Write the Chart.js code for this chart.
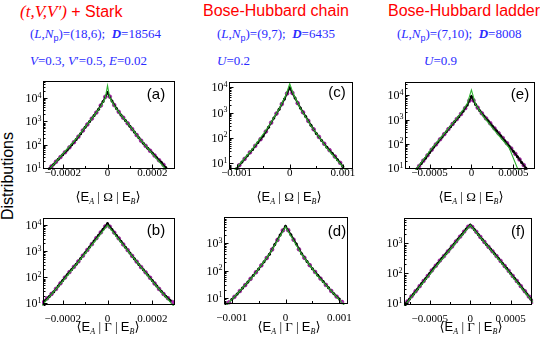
<!DOCTYPE html>
<html><head><meta charset="utf-8">
<script src="https://cdn.jsdelivr.net/npm/chart.js@4.4.0/dist/chart.umd.min.js"></script>
<style>
html,body{margin:0;padding:0;background:#fff;}
#wrap{position:relative;width:540px;height:340px;overflow:hidden;background:#fff;}
canvas{position:absolute;}
.t{position:absolute;white-space:nowrap;line-height:1;}
.title{font-family:"Liberation Sans",Arial,sans-serif;font-size:16px;color:#ff0000;}
.title .it{font-family:"Liberation Serif",serif;font-style:italic;font-size:17px;}
.blue{font-family:"Liberation Serif",serif;font-size:13px;color:#2b2bff;}
.blue .ps{font-family:"Liberation Sans",Arial,sans-serif;font-size:9px;vertical-align:-3px;}
.lab{font-family:"Liberation Sans",Arial,sans-serif;font-size:15px;color:#000;transform:translate(-50%,-50%);}
.xt{font-family:"Liberation Serif","DejaVu Serif",serif;font-size:13px;color:#000;transform:translateX(-50%);}
.xt .e{font-family:"Liberation Sans",Arial,sans-serif;}
.xt .s{font-style:italic;font-size:8px;vertical-align:-3px;}
.ylab{font-family:"Liberation Sans",Arial,sans-serif;font-size:16px;color:#000;transform:translate(-50%,-50%) rotate(-90deg);}
</style></head>
<body><div id="wrap">
<div class="t title" style="left:20px;top:3px;"><span class="it">(t,V,V′)</span> + Stark</div>
<div class="t title" style="left:203px;top:3px;">Bose-Hubbard chain</div>
<div class="t title" style="left:388px;top:3px;">Bose-Hubbard ladder</div>
<div class="t blue" style="left:30px;top:27px;">(<i>L</i>,<i>N</i><span class="ps">p</span>)=(18,6);&nbsp; <b><i>D</i></b>=18564</div>
<div class="t blue" style="left:30px;top:54px;"><i>V</i>=0.3, <i>V</i>′=0.5, <i>E</i>=0.02</div>
<div class="t blue" style="left:217px;top:27px;">(<i>L</i>,<i>N</i><span class="ps">p</span>)=(9,7);&nbsp; <b><i>D</i></b>=6435</div>
<div class="t blue" style="left:217px;top:54px;"><i>U</i>=0.2</div>
<div class="t blue" style="left:397px;top:27px;">(<i>L</i>,<i>N</i><span class="ps">p</span>)=(7,10);&nbsp; <b><i>D</i></b>=8008</div>
<div class="t blue" style="left:424px;top:54px;"><i>U</i>=0.9</div>
<div class="t ylab" style="left:8px;top:176px;">Distributions</div>
</div>
<script>
// ---------- data ----------
// Panel (a)
const xA_black = [-0.00026,-0.00024,-0.00022,-0.0002,-0.00018,-0.00016,-0.00014,-0.00012,-0.0001,-0.00008,-0.00006,-0.00004,-0.00002,0,0.00002,0.00004,0.00006,0.00008,0.0001,0.00012,0.00014,0.00016,0.00018,0.0002,0.00022,0.00024,0.00026];
const yA_black = [9.5,15,24,38,60,100,170,300,560,1000,1780,3310,7080,17000,7400,3550,1900,1100,630,355,200,117,71,45,28,18,10.7];
const xA_mag = [-0.00025,-0.00023,-0.00021,-0.00019,-0.00017,-0.00015,-0.00013,-0.00011,-0.00009,-0.00007,-0.00005,-0.00003,-0.00001,0.00001,0.00003,0.00005,0.00007,0.00009,0.00011,0.00013,0.00015,0.00017,0.00019,0.00021,0.00023,0.00025];
const yA_mag = [12,19,30,48,78,129,224,410,740,1320,2400,4790,11200,11500,5000,2570,1450,830,470,263,151,91,56,35,22,14];
const xA_fit = [-0.00026,-0.0002,-0.00014,-0.0001,-0.00006,-0.00003,-0.00001,0,0.00001,0.00003,0.00006,0.0001,0.00014,0.0002,0.00026];
const yA_fit = [8.9,40,178,575,1780,4470,10000,33900,10500,4680,1900,630,200,42,8.9];

// Panel (b)
const xB_black = [-0.00028,-0.00026,-0.00024,-0.00022,-0.0002,-0.00018,-0.00016,-0.00014,-0.00012,-0.0001,-0.00008,-0.00006,-0.00004,-0.00002,0,0.00002,0.00004,0.00006,0.00008,0.0001,0.00012,0.00014,0.00016,0.00018,0.0002,0.00022,0.00024,0.00026,0.00028];
const yB_black = [12.6,18.6,28,46,76,126,200,316,525,870,1450,2450,4070,6900,11500,6800,4000,2400,1420,850,510,310,195,123,75,46,29,19,13];
const xB_mag = [-0.00029,-0.00027,-0.00025,-0.00023,-0.00021,-0.00019,-0.00017,-0.00015,-0.00013,-0.00011,-0.00009,-0.00007,-0.00005,-0.00003,-0.00001,0.00001,0.00003,0.00005,0.00007,0.00009,0.00011,0.00013,0.00015,0.00017,0.00019,0.00021,0.00023,0.00025,0.00027,0.00029];
const yB_mag = [10.7,15.5,23,36,59,98,158,251,407,676,1120,1860,3160,5250,8900,8700,5150,3100,1820,1100,660,400,245,155,96,58,36,23,15.8,11.2];
const xB_fit = [-0.0003,-0.0002,-0.0001,0,0.0001,0.0002,0.0003];
const yB_fit = [7.1,71,830,10000,830,71,7.1];

// Panel (c)
const xC_black = [-0.001,-0.0009,-0.0008,-0.0007,-0.0006,-0.0005,-0.0004,-0.0003,-0.0002,-0.0001,0,0.0001,0.0002,0.0003,0.0004,0.0005,0.0006,0.0007,0.0008,0.0009,0.001];
const yC_black = [6.3,11.2,20,35,66,120,263,603,1350,3390,9330,3720,1510,692,316,151,79,43,25,14,7.6];
const xC_mag = [-0.00095,-0.00085,-0.00075,-0.00065,-0.00055,-0.00045,-0.00035,-0.00025,-0.00015,-0.00005,0.00005,0.00015,0.00025,0.00035,0.00045,0.00055,0.00065,0.00075,0.00085,0.00095];
const yC_mag = [8.5,15,27,49,89,178,398,912,2140,5620,5890,2340,1020,468,219,110,59,33,18.6,10.5];
const xC_fit = [-0.00105,-0.0007,-0.0004,-0.0002,-0.00007,0,0.00007,0.0002,0.0004,0.0007,0.00105];
const yC_fit = [5,37,275,1380,5010,13500,5250,1450,302,40,5.6];

// Panel (d)
const xD_black = [-0.001,-0.0009,-0.0008,-0.0007,-0.0006,-0.0005,-0.0004,-0.0003,-0.0002,-0.0001,0,0.0001,0.0002,0.0003,0.0004,0.0005,0.0006,0.0007,0.0008,0.0009,0.001];
const yD_black = [8.7,13.8,23,38,66,115,209,398,890,2000,4170,2040,933,417,214,117,68,40,23.4,14.1,9.1];
const xD_mag = [-0.00105,-0.00095,-0.00085,-0.00075,-0.00065,-0.00055,-0.00045,-0.00035,-0.00025,-0.00015,-0.00005,0.00005,0.00015,0.00025,0.00035,0.00045,0.00055,0.00065,0.00075,0.00085,0.00095,0.00105];
const yD_mag = [6.9,11,17.8,29.5,50,87,155,288,589,1320,2950,3000,1350,600,295,158,89,51,30,18,11.2,7.1];
const xD_fit = [-0.0011,-0.0006,-0.0003,0,0.0003,0.0006,0.0011];
const yD_fit = [5.2,63,398,3980,398,63,5.2];

// Panel (e)
const xE_black = [-0.00065,-0.0006,-0.00055,-0.0005,-0.00045,-0.0004,-0.00035,-0.0003,-0.00025,-0.0002,-0.00015,-0.0001,-0.00005,0,0.00005,0.0001,0.00015,0.0002,0.00025,0.0003,0.00035,0.0004,0.00045,0.0005,0.00055,0.0006,0.00065];
const yE_black = [9.5,15.8,26,44,74,120,195,316,513,832,1320,2190,3980,8910,4170,2340,1410,891,550,347,219,135,83,50,30,17.4,10.2];
const xE_mag = [-0.000625,-0.000575,-0.000525,-0.000475,-0.000425,-0.000375,-0.000325,-0.000275,-0.000225,-0.000175,-0.000125,-0.000075,-0.000025,0.000025,0.000075,0.000125,0.000175,0.000225,0.000275,0.000325,0.000375,0.000425,0.000475,0.000525,0.000575,0.000625];
const yE_mag = [12.3,20.4,34,58,95,155,251,407,661,1050,1700,2950,6030,6170,3090,1820,1120,708,437,275,174,107,65,39,23,13.5];
const xE_fit = [-0.00067,-0.0005,-0.0003,-0.00015,-0.00005,0,0.00005,0.00015,0.0003,0.00045,0.00055,0.0006];
const yE_fit = [7.9,50,339,1410,4470,16600,4170,1260,282,71,10,5.6];

// Panel (f)
const xF_black = [-0.0008,-0.00075,-0.0007,-0.00065,-0.0006,-0.00055,-0.0005,-0.00045,-0.0004,-0.00035,-0.0003,-0.00025,-0.0002,-0.00015,-0.0001,-0.00005,0,0.00005,0.0001,0.00015,0.0002,0.00025,0.0003,0.00035,0.0004,0.00045,0.0005,0.00055,0.0006,0.00065,0.0007,0.00075];
const yF_black = [9.5,13.8,20.4,30,45,66,100,148,214,316,447,646,933,1380,2000,2950,4070,2880,1950,1320,912,646,447,309,209,145,98,66,45,30,20.4,13.5];
const xF_mag = [-0.000775,-0.000725,-0.000675,-0.000625,-0.000575,-0.000525,-0.000475,-0.000425,-0.000375,-0.000325,-0.000275,-0.000225,-0.000175,-0.000125,-0.000075,-0.000025,0.000025,0.000075,0.000125,0.000175,0.000225,0.000275,0.000325,0.000375,0.000425,0.000475,0.000525,0.000575,0.000625,0.000675,0.000725,0.000775];
const yF_mag = [11.5,17,25,37,55,81,123,178,263,372,537,776,1150,1660,2450,3550,3470,2400,1620,1100,759,537,372,257,174,120,81,55,37,25,16.6,11.2];
const xF_fit = [-0.00083,-0.0004,0,0.0004,0.00083];
const yF_fit = [7.1,200,3980,200,7.1];

// axis ranges and tick settings
const xRanges = {a:[-0.000288,0.000299], b:[-0.000288,0.000299], c:[-0.001144,0.001182], d:[-0.001144,0.00116], e:[-0.000794,0.000754], f:[-0.000818,0.000764]};
const yRanges = {a:[9.3,56000], b:[8.7,19500], c:[6.0,16600], d:[6.0,9500], e:[9.3,37000], f:[8.7,7200]};
const xTickStep = {a:0.0001, b:0.0001, c:0.0005, d:0.0005, e:0.00025, f:0.00025};
const xLabelStep = {a:0.0002, b:0.0002, c:0.001, d:0.001, e:0.0005, f:0.0005};
const panelLetters = ['(a)','(b)','(c)','(d)','(e)','(f)'];

// ---------- layout (box positions in the page) ----------
const boxes = {
  a:{L:43,T:80,R:175,B:169}, b:{L:43,T:217,R:175,B:305},
  c:{L:229,T:81,R:353,B:169}, d:{L:224,T:216,R:356,B:304},
  e:{L:405,T:81,R:535,B:169}, f:{L:404,T:217,R:535,B:305}
};
const labelPos = {a:[156,93], b:[156,229], c:[337,91], d:[337,230], e:[520,93], f:[518,230]};
const xTitleCenter = {a:108, b:108, c:289, d:289, e:471, f:471};

const series = {
  a:[xA_black,yA_black,xA_mag,yA_mag,xA_fit,yA_fit],
  b:[xB_black,yB_black,xB_mag,yB_mag,xB_fit,yB_fit],
  c:[xC_black,yC_black,xC_mag,yC_mag,xC_fit,yC_fit],
  d:[xD_black,yD_black,xD_mag,yD_mag,xD_fit,yD_fit],
  e:[xE_black,yE_black,xE_mag,yE_mag,xE_fit,yE_fit],
  f:[xF_black,yF_black,xF_mag,yF_mag,xF_fit,yF_fit]
};

function pts(xs, ys){ return xs.map((x,i)=>({x:x, y:ys[i]})); }
function isMult(v, step){ const r=v/step; return Math.abs(r-Math.round(r))<1e-6; }
function fmt(v, step){
  if(!isMult(v,step)) return '';
  const k=Math.round(v/step); if(k===0) return '0';
  const val=k*step; const s=parseFloat(Math.abs(val).toPrecision(6)).toString();
  return (val<0?'\u2212':'')+s;
}

const decoPlugin = {
  id:'deco',
  afterDraw(chart){
    const o = chart.options.plugins.deco;
    const ctx=chart.ctx, a=chart.chartArea, xs=chart.scales.x, ys=chart.scales.y;
    ctx.save();
    ctx.strokeStyle='#000'; ctx.lineWidth=1;
    const L=Math.round(a.left)+0.5, R=Math.round(a.right)-0.5, T=Math.round(a.top)+0.5, B=Math.round(a.bottom)-0.5;
    ctx.strokeRect(L,T,R-L,B-T);
    ctx.beginPath();
    xs.ticks.forEach(t=>{
      const px=Math.round(xs.getPixelForValue(t.value))+0.5;
      if(px<L||px>R) return;
      const len=isMult(t.value,o.labelStep)?4:2.5;
      ctx.moveTo(px,B); ctx.lineTo(px,B-len);
    });
    const lo=Math.floor(Math.log10(ys.min)), hi=Math.ceil(Math.log10(ys.max));
    for(let e=lo;e<=hi;e++) for(let m=1;m<10;m++){
      const v=m*Math.pow(10,e); if(v<ys.min||v>ys.max) continue;
      const py=Math.round(ys.getPixelForValue(v))+0.5;
      const len=m===1?4:2;
      ctx.moveTo(L,py); ctx.lineTo(L+len,py);
    }
    ctx.stroke();
    ctx.fillStyle='#000'; ctx.textBaseline='alphabetic';
    for(let e=lo;e<=hi;e++){
      const v=Math.pow(10,e); if(v<ys.min||v>ys.max) continue;
      const py=ys.getPixelForValue(v);
      ctx.font='12px "Liberation Serif"'; ctx.textAlign='right';
      ctx.fillText('10', L-6, py+4);
      ctx.font='8px "Liberation Serif"'; ctx.textAlign='left';
      ctx.fillText(String(e), L-6, py-0.5);
    }
    ctx.restore();
  }
};

const wrap=document.getElementById('wrap');
const padL=42, padT=4, padR=4, padB=22;
['a','b','c','d','e','f'].forEach((k,idx)=>{
  const bx=boxes[k];
  const cv=document.createElement('canvas');
  const w=bx.R-bx.L+padL+padR, h=bx.B-bx.T+padT+padB;
  cv.width=w; cv.height=h;
  cv.style.left=(bx.L-padL)+'px'; cv.style.top=(bx.T-padT)+'px';
  cv.style.width=w+'px'; cv.style.height=h+'px';
  wrap.appendChild(cv);
  const s=series[k];
  const bottomRow=(k==='b'||k==='d'||k==='f');
  new Chart(cv.getContext('2d'),{
    type:'scatter',
    data:{datasets:[
      {label:'fit', data:pts(s[4],s[5]), showLine:true, borderColor:'#2fb12f', borderWidth:1.1, pointRadius:0, clip:1},
      {label:'black', data:pts(s[0],s[1]), showLine:true, borderColor:'#111', borderWidth:1.8, pointRadius:1.5, pointBackgroundColor:'#000', pointBorderWidth:0, clip:1},
      {label:'mag', data:pts(s[2],s[3]), showLine:false, pointRadius:1.9, pointBackgroundColor:'#b520b5', pointBorderColor:'#700070', pointBorderWidth:0.5, clip:1}
    ]},
    options:{
      responsive:false, animation:false, devicePixelRatio:1,
      layout:{padding:{left:0,right:padR,top:padT,bottom:0}},
      plugins:{legend:{display:false}, tooltip:{enabled:false}, deco:{labelStep:xLabelStep[k]}},
      scales:{
        x:{type:'linear', min:xRanges[k][0], max:xRanges[k][1],
           afterFit:(sc)=>{sc.height=padB;},
           grid:{display:false, drawTicks:false}, border:{display:false},
           ticks:{stepSize:xTickStep[k], includeBounds:false, autoSkip:false, maxRotation:0, minRotation:0,
                  padding: bottomRow?8:-2, color:'#000', font:{family:'Liberation Serif', size:11},
                  callback:(v)=>fmt(v,xLabelStep[k])}},
        y:{type:'logarithmic', min:yRanges[k][0], max:yRanges[k][1],
           afterFit:(sc)=>{sc.width=padL;},
           grid:{display:false, drawTicks:false}, border:{display:false}, ticks:{display:false}}
      }
    },
    plugins:[decoPlugin]
  });
  const lab=document.createElement('div');
  lab.className='t lab'; lab.textContent=panelLetters[idx];
  lab.style.left=labelPos[k][0]+'px'; lab.style.top=labelPos[k][1]+'px';
  wrap.appendChild(lab);
  const xt=document.createElement('div');
  xt.className='t xt';
  xt.innerHTML='\u27E8<span class="e">E</span><span class="s">A</span> | '+(bottomRow?'\u0393':'\u03A9')+' | <span class="e">E</span><span class="s">B</span>\u27E9';
  xt.style.left=xTitleCenter[k]+'px'; xt.style.top=(bottomRow?320:190)+'px';
  wrap.appendChild(xt);
});
</script>
</body></html>
